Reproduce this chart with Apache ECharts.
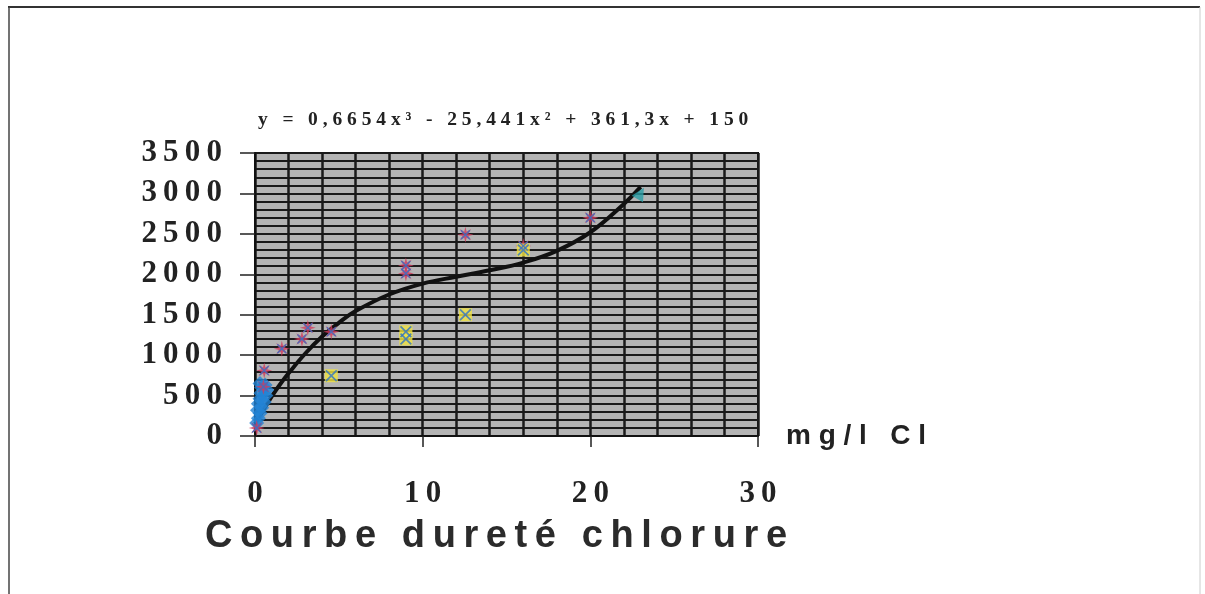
<!DOCTYPE html>
<html>
<head>
<meta charset="utf-8">
<script src="https://cdn.jsdelivr.net/npm/echarts@6/dist/echarts.min.js"></script>
<style>
  html, body { margin: 0; padding: 0; background: #fff; }
  #chart { width: 1205px; height: 594px; }
</style>
</head>
<body>
<div id="chart"></div>
<script>
// points: [mg/l Cl, dureté]
const redPoints = [
  [0.1, 100], [0.5, 610], [0.55, 810], [1.6, 1080], [2.8, 1200], [3.15, 1340],
  [4.55, 1290], [9.0, 2010], [9.0, 2110], [12.55, 2490], [16.0, 2350], [20.0, 2700]
];
const yellowPoints = [
  [4.55, 745], [9.0, 1290], [9.0, 1200], [12.55, 1500], [16.0, 2300]
];
const bluePoints = [
  [0.1, 160], [0.2, 220], [0.3, 280], [0.15, 320], [0.4, 350], [0.2, 400],
  [0.55, 420], [0.3, 460], [0.65, 500], [0.35, 530], [0.7, 570], [0.4, 600],
  [0.6, 630], [0.3, 650]
];
const tealPoints = [[23.0, 3000]];
// trend curve
const curveX = [0, 0.5, 1, 1.5, 2, 3, 4, 5, 6, 8, 10, 12, 14, 16, 18, 20, 22, 23];
const curveY = [150, 320, 490, 640, 775, 1020, 1230, 1400, 1545, 1750, 1885, 1970, 2050, 2145, 2290, 2520, 2870, 3080];

const xTicks = { min: 0, max: 30, step: 10 };
const yTicks = { min: 0, max: 3500, step: 500 };

const equation = 'y = 0,6654x³ - 25,441x² + 361,3x + 150';
const titleText = 'Courbe dureté chlorure';
const unitText = 'mg/l Cl';

// letter spacing imitation: a (thin) space between every character
const spaced = (s, sep) => String(s).split('').join(sep || ' ');
const THIN = '\u2009';

const X_PATH = 'path://M1,0L5,4L9,0L10,1L6,5L10,9L9,10L5,6L1,10L0,9L4,5L0,1Z';
const STAR_PATH = 'path://M10,5L6.85,5.77L8.54,8.54L5.77,6.85L5,10L4.23,6.85L1.46,8.54L3.15,5.77L0,5L3.15,4.23L1.46,1.46L4.23,3.15L5,0L5.77,3.15L8.54,1.46L6.85,4.23Z';

const chart = echarts.init(document.getElementById('chart'));

const option = {
  backgroundColor: '#fff',
  animation: false,
  title: {
    text: spaced(titleText, THIN),
    left: 205,
    top: 518,
    padding: 0,
    textStyle: {
      fontFamily: 'Liberation Sans',
      fontWeight: 'bold',
      fontSize: 38,
      color: '#2b2b2b'
    }
  },
  grid: {
    left: 255,
    right: 447,
    top: 153,
    bottom: 158,
    show: true,
    backgroundColor: '#b4b4b4',
    borderColor: '#111',
    borderWidth: 2
  },
  xAxis: {
    type: 'value',
    min: xTicks.min,
    max: xTicks.max,
    interval: xTicks.step,
    name: spaced(unitText),
    nameLocation: 'end',
    nameGap: 28,
    nameTextStyle: {
      fontFamily: 'Liberation Sans',
      fontWeight: 'bold',
      fontSize: 28,
      color: '#222'
    },
    axisLine: { show: true, onZero: false, lineStyle: { color: '#111', width: 2 } },
    axisTick: { show: true, inside: false, length: 11, lineStyle: { color: '#222', width: 1.5 } },
    axisLabel: {
      margin: 42,
      formatter: (v) => spaced(v, THIN),
      fontFamily: 'Liberation Serif',
      fontWeight: 'bold',
      fontSize: 31,
      color: '#222'
    },
    splitLine: { show: true, lineStyle: { color: '#1a1a1a', width: 2.5 } },
    minorTick: { show: false, splitNumber: 5 },
    minorSplitLine: { show: true, lineStyle: { color: '#1a1a1a', width: 2.5 } }
  },
  yAxis: {
    type: 'value',
    min: yTicks.min,
    max: yTicks.max,
    interval: yTicks.step,
    axisLine: { show: true, onZero: false, lineStyle: { color: '#111', width: 2 } },
    axisTick: { show: true, inside: false, length: 15, lineStyle: { color: '#222', width: 1.5 } },
    axisLabel: {
      margin: 33,
      formatter: (v) => spaced(v, THIN),
      fontFamily: 'Liberation Serif',
      fontWeight: 'bold',
      fontSize: 31,
      color: '#222',
      padding: [7, 0, 0, 0]
    },
    splitLine: { show: true, lineStyle: { color: '#1a1a1a', width: 2 } },
    minorTick: { show: false, splitNumber: 5 },
    minorSplitLine: { show: true, lineStyle: { color: '#1a1a1a', width: 2 } }
  },
  graphic: [
    // page frame
    { type: 'line', shape: { x1: 8, y1: 7, x2: 1200, y2: 7 }, style: { stroke: '#333', lineWidth: 2 } },
    { type: 'line', shape: { x1: 9, y1: 7, x2: 9, y2: 594 }, style: { stroke: '#444', lineWidth: 1.5 } },
    { type: 'line', shape: { x1: 1200, y1: 7, x2: 1200, y2: 594 }, style: { stroke: '#ccc', lineWidth: 1 } },
    {
      type: 'text',
      left: 258,
      top: 110,
      style: {
        text: spaced(equation),
        fontFamily: 'Liberation Serif',
        fontWeight: 'bold',
        fontSize: 19.5,
        fill: '#222'
      }
    }
  ],
  series: [
    {
      name: 'tendance',
      type: 'line',
      data: curveX.map((x, i) => [x, curveY[i]]),
      smooth: 0.4,
      showSymbol: false,
      lineStyle: { color: '#111', width: 4 },
      z: 3
    },
    {
      name: 'blue',
      type: 'scatter',
      data: bluePoints,
      symbol: 'diamond',
      symbolSize: 15,
      itemStyle: { color: '#2383d4' },
      z: 4
    },
    {
      name: 'red',
      type: 'scatter',
      data: redPoints,
      symbol: STAR_PATH,
      symbolSize: 16,
      itemStyle: { color: '#d23a5c' },
      z: 5
    },
    {
      name: 'red-x',
      type: 'scatter',
      data: redPoints,
      symbol: X_PATH,
      symbolSize: 10,
      itemStyle: { color: '#3b6fc4', opacity: 0.85 },
      z: 6
    },
    {
      name: 'yellow',
      type: 'scatter',
      data: yellowPoints,
      symbol: 'rect',
      symbolSize: 13,
      itemStyle: { color: '#f1e43e' },
      z: 5
    },
    {
      name: 'yellow-x',
      type: 'scatter',
      data: yellowPoints,
      symbol: X_PATH,
      symbolSize: 12,
      itemStyle: { color: '#2f74c4' },
      z: 6
    },
    {
      name: 'teal',
      type: 'scatter',
      data: tealPoints,
      symbol: 'triangle',
      symbolSize: 13,
      symbolRotate: -30,
      itemStyle: { color: '#2a9fa6' },
      z: 6
    }
  ]
};

chart.setOption(option);
</script>
</body>
</html>
